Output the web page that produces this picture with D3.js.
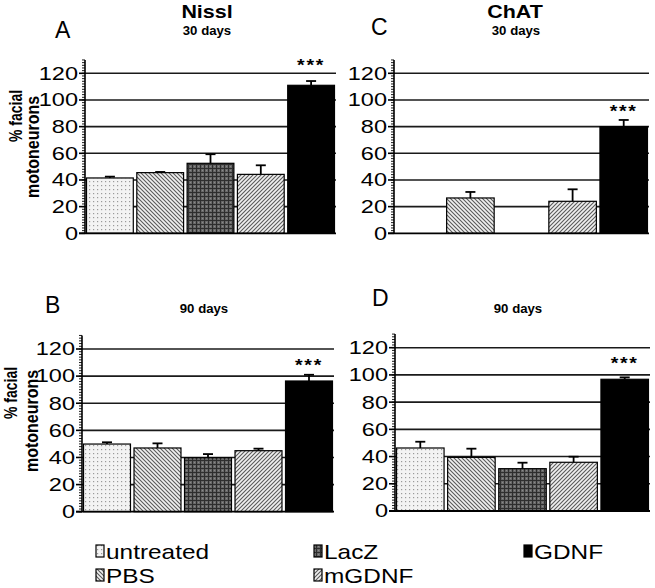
<!DOCTYPE html>
<html>
<head>
<meta charset="utf-8">
<script src="https://cdn.jsdelivr.net/npm/d3@7/dist/d3.min.js"></script>
<style>
  html, body { margin: 0; padding: 0; background: #fff; }
  svg { display: block; font-family: "Liberation Sans", Arial, Helvetica, sans-serif; }
</style>
</head>
<body>
<svg id="chart" width="655" height="588"></svg>
<script>
// ---------------- data ----------------
const categories = ["untreated", "PBS", "LacZ", "mGDNF", "GDNF"];
const nissl30    = [41.5, 45.5, 52.5, 44.2, 111];
const nissl30Err = [1.0, 0.5, 6.8, 6.8, 3.2];
const chat30     = [null, 26.5, null, 24, 80];
const chat30Err  = [null, 4.5, null, 9, 5];
const nissl90    = [49.9, 47, 39.8, 45, 96.4];
const nissl90Err = [1.3, 3.4, 2.7, 1.5, 4.6];
const chat90     = [46.3, 39.4, 31.1, 35.8, 96.8];
const chat90Err  = [4.6, 6.4, 4.4, 4.1, 1.4];
const yTicks     = [0, 20, 40, 60, 80, 100, 120];
const starValue  = [128.4, 94, 110.4, 111]; // A, C, B, D
const yMax = 130;

// ---------------- layout ----------------
const svg = d3.select("#chart");
const defs = svg.append("defs");

function pat(id, w, h, build) {
  const p = defs.append("pattern").attr("id", id).attr("patternUnits", "userSpaceOnUse")
    .attr("width", w).attr("height", h);
  build(p);
}
pat("pUntreated", 4, 4, p => {
  p.append("rect").attr("width", 4).attr("height", 4).attr("fill", "#f3f3f3");
  p.append("rect").attr("x", 1).attr("y", 1).attr("width", 1.2).attr("height", 1.2).attr("fill", "#9a9a9a");
});
pat("pPBS", 4, 4, p => {
  p.append("rect").attr("width", 4).attr("height", 4).attr("fill", "#f0f0f0");
  p.append("path").attr("d", "M-1,-1 L5,5 M-1,3 L1,5 M3,-1 L5,1").attr("stroke", "#5a5a5a").attr("stroke-width", 1.1);
});
pat("pMGDNF", 4, 4, p => {
  p.append("rect").attr("width", 4).attr("height", 4).attr("fill", "#f0f0f0");
  p.append("path").attr("d", "M-1,5 L5,-1 M-1,1 L1,-1 M3,5 L5,3").attr("stroke", "#5a5a5a").attr("stroke-width", 1.1);
});
pat("pLacZ", 4, 4, p => {
  p.append("rect").attr("width", 4).attr("height", 4).attr("fill", "#6a6a6a");
  p.append("path").attr("d", "M0,0.5 H4 M0.5,0 V4").attr("stroke", "#2e2e2e").attr("stroke-width", 1.2);
  p.append("rect").attr("x", 2).attr("y", 2).attr("width", 1).attr("height", 1).attr("fill", "#8a8a8a");
});
const fills = {untreated: "url(#pUntreated)", PBS: "url(#pPBS)", LacZ: "url(#pLacZ)", mGDNF: "url(#pMGDNF)", GDNF: "#000"};

function sText(g, str, x, y, opts) {
  const t = g.append("text")
    .attr("transform", `translate(${x},${y}) scale(${opts.sx || 1},1)` + (opts.rot ? ` rotate(${opts.rot})` : ""))
    .attr("text-anchor", opts.anchor || "start")
    .attr("font-size", opts.size)
    .attr("font-weight", opts.weight || "normal")
    .attr("fill", "#000")
    .text(str);
  if (opts.dy) t.attr("dy", opts.dy);
  if (opts.ls) t.attr("letter-spacing", opts.ls);
  return t;
}

const panels = [
  {vals: nissl30, errs: nissl30Err, x0: 85,  x1: 336, yb: 233.3, yt: 73.3,  star: starValue[0]},
  {vals: chat30,  errs: chat30Err,  x0: 394, x1: 649, yb: 233.3, yt: 73.3,  star: starValue[1]},
  {vals: nissl90, errs: nissl90Err, x0: 82,  x1: 334, yb: 511.7, yt: 349,   star: starValue[2]},
  {vals: chat90,  errs: chat90Err,  x0: 395, x1: 650, yb: 511,   yt: 347.7, star: starValue[3]}
];

panels.forEach(P => {
  const g = svg.append("g");
  const y = d3.scaleLinear().domain([0, 120]).range([P.yb, P.yt]);
  const x = d3.scaleBand().domain(categories).range([P.x0, P.x1]).paddingInner(0.07).paddingOuter(0.03);

  g.selectAll("line.grid").data(yTicks.filter(d => d > 0)).join("line")
    .attr("x1", P.x0).attr("x2", P.x1)
    .attr("y1", d => y(d)).attr("y2", d => y(d))
    .attr("stroke", "#1a1a1a").attr("stroke-width", 1.6);

  const data = categories.map((c, i) => ({c, v: P.vals[i], e: P.errs[i]})).filter(d => d.v != null);

  g.selectAll("line.err").data(data).join("line")
    .attr("x1", d => x(d.c) + x.bandwidth() / 2).attr("x2", d => x(d.c) + x.bandwidth() / 2)
    .attr("y1", d => y(d.v)).attr("y2", d => y(d.v + d.e))
    .attr("stroke", "#000").attr("stroke-width", 1.8);
  g.selectAll("line.cap").data(data).join("line")
    .attr("x1", d => x(d.c) + x.bandwidth() / 2 - 5).attr("x2", d => x(d.c) + x.bandwidth() / 2 + 5)
    .attr("y1", d => y(d.v + d.e)).attr("y2", d => y(d.v + d.e))
    .attr("stroke", "#000").attr("stroke-width", 1.8);

  g.selectAll("rect.bar").data(data).join("rect")
    .attr("x", d => x(d.c)).attr("width", x.bandwidth())
    .attr("y", d => y(d.v)).attr("height", d => y(0) - y(d.v))
    .attr("fill", d => fills[d.c])
    .attr("stroke", "#000").attr("stroke-width", 1.2);

  g.append("line").attr("x1", P.x0 - 6).attr("x2", P.x1)
    .attr("y1", y(0)).attr("y2", y(0)).attr("stroke", "#000").attr("stroke-width", 1.8);

  g.append("line").attr("x1", P.x0).attr("x2", P.x0)
    .attr("y1", y(0)).attr("y2", y(yMax)).attr("stroke", "#000").attr("stroke-width", 1.6);
  const minor = d3.range(0, yMax + 0.1, 2);
  g.selectAll("line.minor").data(minor).join("line")
    .attr("x1", P.x0 - 3).attr("x2", P.x0)
    .attr("y1", d => y(d)).attr("y2", d => y(d))
    .attr("stroke", "#000").attr("stroke-width", 0.9);
  g.selectAll("line.major").data(yTicks).join("line")
    .attr("x1", P.x0 - 6).attr("x2", P.x0)
    .attr("y1", d => y(d)).attr("y2", d => y(d))
    .attr("stroke", "#000").attr("stroke-width", 1.6);
  yTicks.forEach(t => {
    sText(g, String(t), P.x0 - 7, y(t), {size: 17.7, sx: 1.33, anchor: "end", dy: "0.36em"});
  });

  sText(g, "***", x("GDNF") + x.bandwidth() / 2, y(P.star), {size: 17, sx: 1.15, anchor: "middle", weight: "bold", dy: "0.55em", ls: 1.5});
});

// titles
sText(svg, "Nissl", 207, 18, {size: 18.5, sx: 1.16, anchor: "middle", weight: "bold"});
sText(svg, "ChAT", 515, 18, {size: 18.5, sx: 1.16, anchor: "middle", weight: "bold"});
sText(svg, "30 days", 207, 34.5, {size: 12, sx: 1.1, anchor: "middle", weight: "bold"});
sText(svg, "30 days", 516, 34.5, {size: 12, sx: 1.1, anchor: "middle", weight: "bold"});
sText(svg, "90 days", 204, 313, {size: 12, sx: 1.1, anchor: "middle", weight: "bold"});
sText(svg, "90 days", 518, 313, {size: 12, sx: 1.1, anchor: "middle", weight: "bold"});

// panel letters
sText(svg, "A", 55, 38, {size: 23});
sText(svg, "C", 371, 35, {size: 23});
sText(svg, "B", 45, 313, {size: 23});
sText(svg, "D", 372, 306, {size: 23});

// y axis titles
sText(svg, "% facial", 21.5, 116, {size: 14, sx: 1.33, rot: -90, anchor: "middle", weight: "bold"});
sText(svg, "motoneurons", 39, 147, {size: 16, sx: 1.2, rot: -90, anchor: "middle", weight: "bold"});
sText(svg, "% facial", 17, 393, {size: 14, sx: 1.33, rot: -90, anchor: "middle", weight: "bold"});
sText(svg, "motoneurons", 38, 421, {size: 16, sx: 1.2, rot: -90, anchor: "middle", weight: "bold"});

// legend
const legendCols = [96, 314, 524];
const legendRows = [559, 583];
const legendPos = [[0, 0], [0, 1], [1, 0], [1, 1], [2, 0]];
const legendOrder = ["untreated", "PBS", "LacZ", "mGDNF", "GDNF"];
legendOrder.forEach((c, i) => {
  const [ci, ri] = legendPos[i];
  const lx = legendCols[ci], ly = legendRows[ri];
  svg.append("rect").attr("x", lx).attr("y", ly - 14).attr("width", 8).attr("height", 12)
    .attr("fill", fills[c]).attr("stroke", "#000").attr("stroke-width", 1.2);
  sText(svg, c, lx + 10, ly, {size: 20, sx: 1.22});
});
</script>
</body>
</html>
